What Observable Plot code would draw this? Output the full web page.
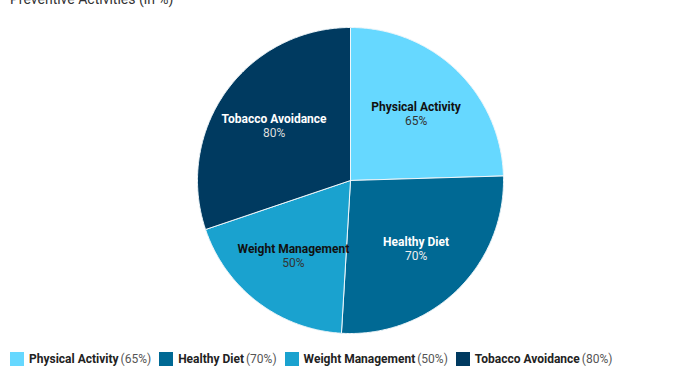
<!DOCTYPE html>
<html>
<head>
<meta charset="utf-8">
<script src="https://cdn.jsdelivr.net/npm/d3@7"></script>
<script src="https://cdn.jsdelivr.net/npm/@observablehq/plot@0.6"></script>
<style>
  html, body { margin: 0; padding: 0; background: #fff; }
  body { width: 700px; height: 375px; position: relative; overflow: hidden; font-family: Roboto, "Noto Sans", sans-serif; }
  #title { position: absolute; left: 10px; top: -8px; font-size: 14px; line-height: 14px; color: #333; white-space: nowrap; }
  #chart { position: absolute; left: 0; top: 0; }
  #legend { position: absolute; left: 10px; top: 352px; display: flex; align-items: center; gap: 8px; font-size: 12px; white-space: nowrap; }
  .item { display: flex; align-items: center; }
  .sw { width: 14px; height: 14px; margin-right: 5px; display: inline-block; }
  .nm { font-weight: bold; color: #222; }
  .pc { color: #555; margin-left: 2px; }
</style>
</head>
<body>
<div id="title"></div>
<div id="chart"></div>
<div id="legend"></div>
<script>
const titleText = "Preventive Activities (in %)";
const categories = ["Physical Activity", "Healthy Diet", "Weight Management", "Tobacco Avoidance"];
const values = [65, 70, 50, 80];
const colors = ["#66d8ff", "#006994", "#1aa2cf", "#003a60"];
const labelColors = ["#111", "#fff", "#111", "#fff"];
const pctColors = ["#333", "#eee", "#333", "#ddd"];

document.getElementById("title").textContent = titleText;

const W = 700, H = 340, CX = 350, CY = 180, R = 153;

const data = categories.map((c, i) => ({cat: c, value: values[i], i}));
const arcs = d3.pie().sort(null).value(d => d.value)(data);

// polygon outline for each slice (unit circle, angle clockwise from top)
const poly = [];
for (const a of arcs) {
  const steps = Math.max(2, Math.ceil((a.endAngle - a.startAngle) / (Math.PI / 360)));
  poly.push({cat: a.data.cat, x: 0, y: 0});
  for (let k = 0; k <= steps; k++) {
    const t = a.startAngle + (a.endAngle - a.startAngle) * k / steps;
    poly.push({cat: a.data.cat, x: Math.sin(t), y: Math.cos(t)});
  }
  poly.push({cat: a.data.cat, x: 0, y: 0});
}

const labelR = 0.615;
const labels = arcs.map(a => {
  const m = (a.startAngle + a.endAngle) / 2;
  return {cat: a.data.cat, value: a.data.value, i: a.data.i, x: labelR * Math.sin(m), y: labelR * Math.cos(m)};
});

const chart = Plot.plot({
  width: W,
  height: H,
  margin: 0,
  x: {domain: [-CX / R, (W - CX) / R], axis: null},
  y: {domain: [-(H - CY) / R, CY / R], axis: null},
  color: {domain: categories, range: colors},
  marks: [
    Plot.line(poly, {x: "x", y: "y", z: "cat", fill: "cat", stroke: "#eef6fa", strokeWidth: 1, curve: "linear"}),
    Plot.text(labels, {x: "x", y: "y", text: "cat", dy: -6, fontSize: 12, fontWeight: "bold",
      fill: d => labelColors[d.i], fontFamily: "Roboto"}),
    Plot.text(labels, {x: "x", y: "y", text: d => d.value + "%", dy: 8, fontSize: 12,
      fill: d => pctColors[d.i], fontFamily: "Roboto"})
  ]
});
document.getElementById("chart").appendChild(chart);

const legend = document.getElementById("legend");
categories.forEach((c, i) => {
  const it = document.createElement("div");
  it.className = "item";
  it.innerHTML = `<span class="sw" style="background:${colors[i]}"></span><span class="nm"></span><span class="pc"></span>`;
  it.querySelector(".nm").textContent = c;
  it.querySelector(".pc").textContent = `(${values[i]}%)`;
  legend.appendChild(it);
});
</script>
</body>
</html>
